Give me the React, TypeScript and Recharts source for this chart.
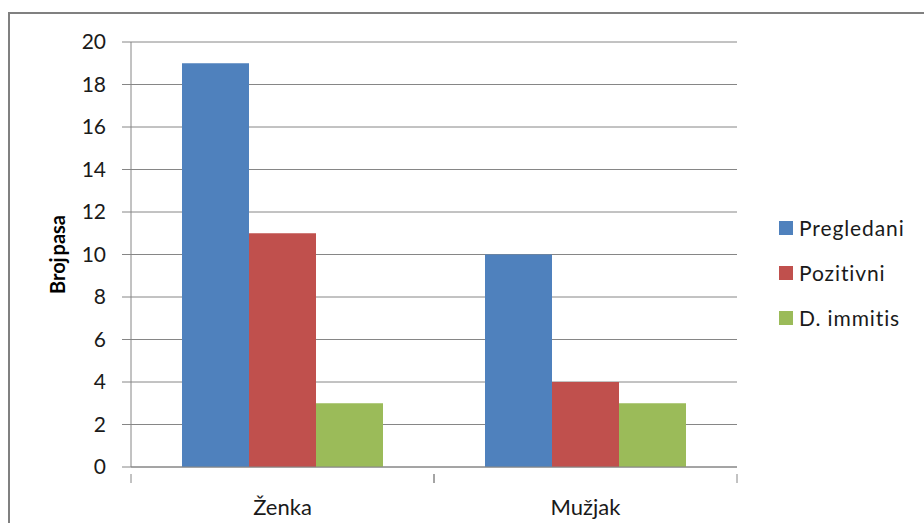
import React from 'react';
import { BarChart, Bar, XAxis, YAxis, CartesianGrid } from 'recharts';

// categories and series
const categories = ['Ženka', 'Mužjak'];
const pregledani = [19, 10];
const pozitivni = [11, 4];
const immitis = [3, 3];
const yTicks = [0, 2, 4, 6, 8, 10, 12, 14, 16, 18, 20];

const seriesNames = ['Pregledani', 'Pozitivni', 'D. immitis'];
const colors = ['#4F81BD', '#C0504D', '#9BBB59'];

const data = categories.map((c, i) => ({
  name: c,
  pregledani: pregledani[i],
  pozitivni: pozitivni[i],
  immitis: immitis[i],
}));

const FONT = 'Lato, "Open Sans", sans-serif';
const AXIS = '#868686';
const TEXT = '#1a1a1a';

// x tick: label plus Excel style tick marks on category borders
const XTick = (props: any) => {
  const { x, y, payload } = props;
  const half = payload && payload.offset ? payload.offset : 151.5;
  return (
    <g>
      <line x1={x - half} y1={y - 1} x2={x - half} y2={y + 8} stroke={AXIS} />
      <line x1={x + half} y1={y - 1} x2={x + half} y2={y + 8} stroke={AXIS} />
      <text x={x} y={y + 40} textAnchor="middle" fill={TEXT} fontSize={22} fontFamily={FONT}>
        {payload.value}
      </text>
    </g>
  );
};

const LegendBox = () => (
  <div style={{ position: 'absolute', left: 779, top: 205, fontFamily: FONT, fontSize: 21, color: TEXT }}>
    {seriesNames.map((n, i) => (
      <div key={n} style={{ display: 'flex', alignItems: 'center', height: 45 }}>
        <span style={{ width: 14, height: 14, background: colors[i], marginRight: 6, display: 'inline-block' }} />
        <span style={{ letterSpacing: 0.9 }}>{n}</span>
      </div>
    ))}
  </div>
);

export default function App() {
  return (
    <div style={{ position: 'fixed', left: 0, top: 0, width: 924, height: 523, overflow: 'hidden', background: '#fff' }}>
      <div
        style={{
          position: 'absolute',
          left: 8,
          top: 12,
          width: 1000,
          height: 600,
          border: '2px solid #808080',
          boxSizing: 'border-box',
        }}
      />
      <div style={{ position: 'absolute', left: 0, top: 0 }}>
        <BarChart
          width={924}
          height={523}
          data={data}
          margin={{ top: 42, right: 187, bottom: 0, left: 0 }}
          barGap={0}
          barCategoryGap={51}
        >
          <CartesianGrid vertical={false} stroke={AXIS} />
          <XAxis
            dataKey="name"
            axisLine={{ stroke: AXIS }}
            tickLine={false}
            tick={<XTick />}
            height={56}
            interval={0}
          />
          <YAxis
            width={131}
            domain={[0, 20]}
            ticks={yTicks}
            interval={0}
            axisLine={{ stroke: AXIS }}
            tickLine={{ stroke: AXIS }}
            tickSize={9}
            tickMargin={16}
            tick={{ fill: TEXT, fontSize: 21, fontFamily: FONT }}
            label={{
              content: (p: any) => {
                const vb = p.viewBox || { x: 0, y: 42, height: 425 };
                const cy = vb.y + vb.height / 2;
                return (
                  <text
                    x={57}
                    y={cy}
                    transform={`rotate(-90 57 ${cy})`}
                    textAnchor="middle"
                    dominantBaseline="central"
                    fontWeight="bold"
                    fontSize={20}
                    fontFamily={FONT}
                    wordSpacing={-3}
                    fill="#000"
                  >
                    Broj pasa
                  </text>
                );
              },
            }}
          />
          <Bar dataKey="pregledani" name={seriesNames[0]} fill={colors[0]} isAnimationActive={false} />
          <Bar dataKey="pozitivni" name={seriesNames[1]} fill={colors[1]} isAnimationActive={false} />
          <Bar dataKey="immitis" name={seriesNames[2]} fill={colors[2]} isAnimationActive={false} />
        </BarChart>
      </div>
      <LegendBox />
    </div>
  );
}
